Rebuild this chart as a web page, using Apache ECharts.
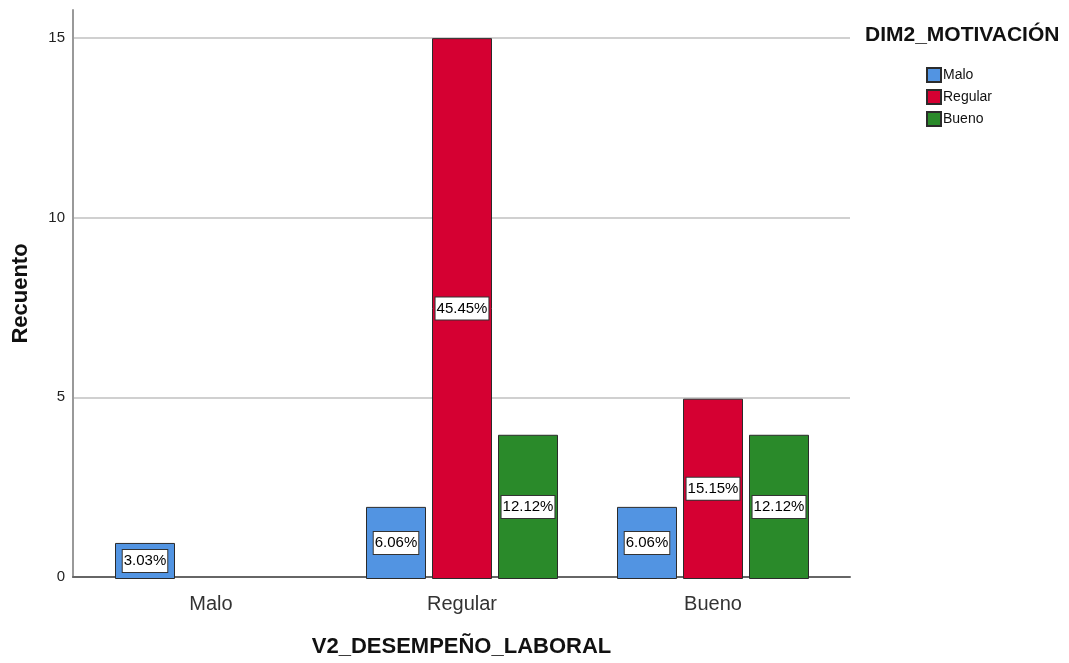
<!DOCTYPE html>
<html>
<head>
<meta charset="utf-8">
<script src="https://cdn.jsdelivr.net/npm/echarts@6/dist/echarts.min.js"></script>
<style>
  html, body { margin: 0; padding: 0; background: #fff; }
  #chart { width: 1069px; height: 663px; }
</style>
</head>
<body>
<div id="chart"></div>
<script>
// Clustered counts: V2_DESEMPEÑO_LABORAL (x) by DIM2_MOTIVACIÓN (series)
const categories = ['Malo', 'Regular', 'Bueno'];
const seriesNames = ['Malo', 'Regular', 'Bueno'];
const countsMalo = [1, 2, 2];
const countsRegular = [0, 15, 5];
const countsBueno = [0, 4, 4];
const yTicks = [0, 5, 10, 15];

const seriesColors = ['#5294E2', '#D50032', '#2A8A2A'];
const allCounts = [countsMalo, countsRegular, countsBueno];
const total = allCounts.flat().reduce((a, b) => a + b, 0);
const yMax = 15.78;
const FONT = 'Liberation Sans, Arial, sans-serif';

const chart = echarts.init(document.getElementById('chart'), null, { renderer: 'canvas' });

const barSeries = allCounts.map((vals, i) => ({
  name: seriesNames[i],
  type: 'bar',
  xAxisIndex: 1,
  yAxisIndex: 1,
  barWidth: 60,
  barGap: '10%',
  data: vals.map(v => (v === 0 ? null : v)),
  itemStyle: { color: seriesColors[i], borderColor: '#2b2b2b', borderWidth: 1 },
  label: {
    show: true,
    position: 'inside',
    formatter: p => (p.value / total * 100).toFixed(2) + '%',
    color: '#000',
    fontFamily: FONT,
    fontSize: 15,
    lineHeight: 17,
    backgroundColor: '#fff',
    borderColor: '#333',
    borderWidth: 1,
    padding: [3, 1, 2, 1]
  }
}));

chart.setOption({
  animation: false,
  title: {
    text: 'DIM2_MOTIVACIÓN',
    left: 860,
    top: 20,
    textStyle: { fontFamily: FONT, fontSize: 21, fontWeight: 'bold', color: '#111' }
  },
  legend: {
    data: seriesNames,
    orient: 'vertical',
    left: 921,
    top: 62,
    icon: 'rect',
    itemWidth: 14,
    itemHeight: 14,
    itemGap: 6,
    textStyle: { fontFamily: FONT, fontSize: 14, color: '#111', padding: [0, 0, 0, -3] }
  },
  grid: [
    { left: 73, right: 219, top: 10, bottom: 84 },
    { left: 85.5, right: 230.5, top: 10, bottom: 84 }
  ],
  xAxis: [
    {
      type: 'category',
      gridIndex: 0,
      data: categories,
      name: 'V2_DESEMPEÑO_LABORAL',
      nameLocation: 'middle',
      nameGap: 59,
      nameTextStyle: { fontFamily: FONT, fontSize: 22, fontWeight: 'bold', color: '#111' },
      axisLine: { lineStyle: { color: '#666', width: 2 } },
      axisTick: { show: false },
      axisLabel: { show: false }
    },
    {
      type: 'category',
      gridIndex: 1,
      data: categories,
      axisLine: { show: false },
      axisTick: { show: false },
      axisLabel: { fontFamily: FONT, fontSize: 20, color: '#333', margin: 15 }
    }
  ],
  yAxis: [
    {
      type: 'value',
      gridIndex: 0,
      min: 0,
      max: yMax,
      interval: 5,
      name: 'Recuento',
      nameLocation: 'middle',
      nameGap: 41,
      nameTextStyle: { fontFamily: FONT, fontSize: 22, fontWeight: 'bold', color: '#111' },
      axisLine: { show: true, lineStyle: { color: '#999', width: 2 } },
      axisTick: { show: false },
      axisLabel: {
        fontFamily: FONT, fontSize: 15, color: '#222', margin: 8,
        showMaxLabel: false,
        formatter: v => (yTicks.includes(v) ? String(v) : '')
      },
      splitLine: { showMinLine: false, showMaxLine: false, lineStyle: { color: '#d0d0d0', width: 2 } }
    },
    {
      type: 'value',
      gridIndex: 1,
      min: 0,
      max: yMax,
      show: false
    }
  ],
  series: barSeries
});
</script>
</body>
</html>
